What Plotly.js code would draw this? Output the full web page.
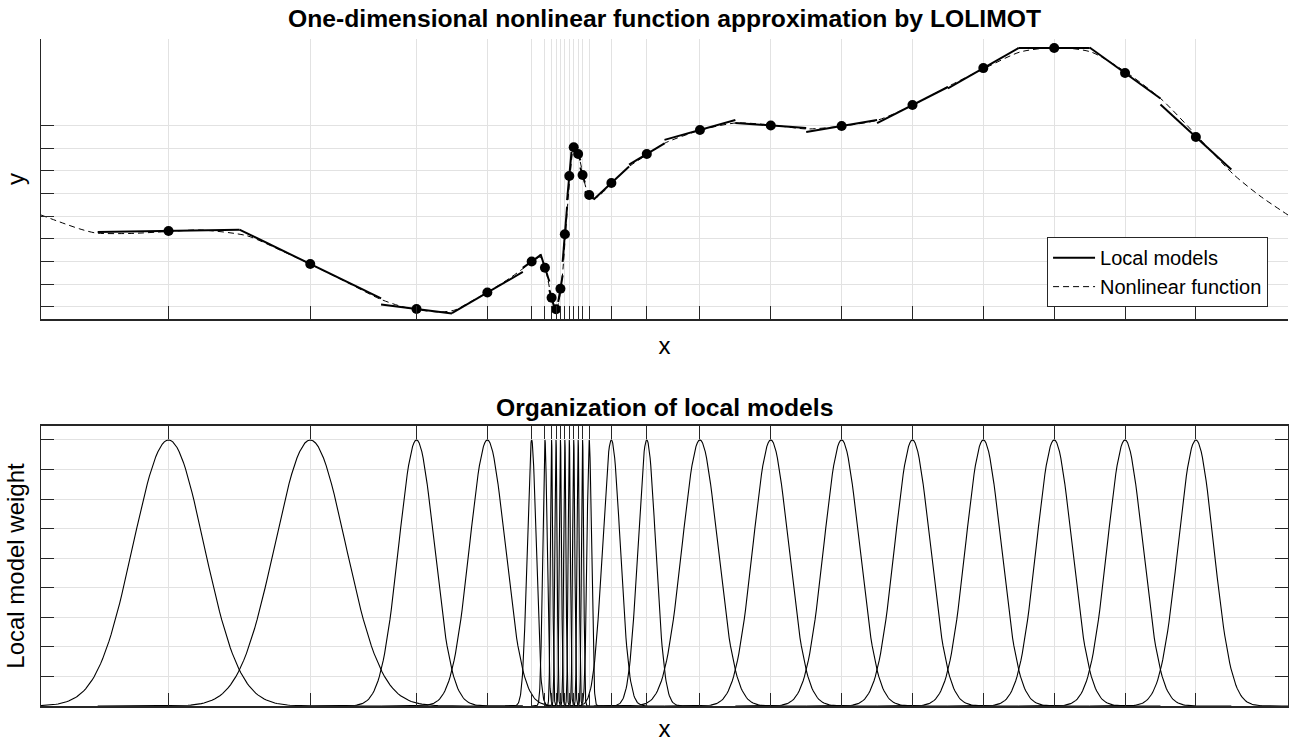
<!DOCTYPE html>
<html>
<head>
<meta charset="utf-8">
<script src="https://cdn.plot.ly/plotly-3.0.1.min.js"></script>
<style>html,body{margin:0;padding:0;background:#fff;} #chart{width:1293px;height:742px;}</style>
</head>
<body>
<div id="chart"></div>
<script>
// LOLIMOT partition boundaries of the input (x) axis
const partitionBounds = [0, 0.125, 0.25, 0.3125, 0.375, 0.390625, 0.3984375,
  0.40234375, 0.40625, 0.41015625, 0.4140625, 0.41796875, 0.421875, 0.42578125, 0.4296875,
  0.4375, 0.46875, 0.5, 0.5625, 0.625, 0.6875, 0.75, 0.8125, 0.875, 0.9375, 1.0];
// local model output at each centre, and local model slope
const modelCenterY = [-0.332, -0.623, -1.020, -0.875, -0.601, -0.656, -0.921, -1.023, -0.841,
  -0.361, 0.153, 0.406, 0.347, 0.162, -0.015, 0.091, 0.347, 0.559, 0.599, 0.594, 0.779,
  1.105, 1.282, 1.062, 0.497];
const modelSlope = [0.16, -4.86, -1.29, 5.8, 7.2, -31, -35, 0, 60, 125, 109, 5, -29, -34, -8,
  9.3, 6, 2.8, -0.7, 1.7, 5.1, 5.7, 0, -7.2, -9.2];
// nonlinear function samples
const funcX = [-0.05, -0.0333, -0.0157, -0.0015, 0.0285, 0.062, 0.0903, 0.1317, 0.1608, 0.1873,
  0.2226, 0.249, 0.2667, 0.2808, 0.302, 0.3152, 0.3284, 0.3434, 0.3637, 0.377, 0.3831, 0.3902,
  0.3946, 0.3972, 0.4003, 0.4025, 0.4043, 0.4061, 0.4087, 0.4105, 0.4127, 0.4149, 0.4167, 0.4185,
  0.4197, 0.4211, 0.4237, 0.4259, 0.4281, 0.4308, 0.4343, 0.4369, 0.4431, 0.4528, 0.4696, 0.4855,
  0.5005, 0.5322, 0.5631, 0.594, 0.6257, 0.6575, 0.6884, 0.7192, 0.751, 0.7828, 0.8137, 0.8455,
  0.8763, 0.9081, 0.939, 0.9706, 1.0015, 1.0253, 1.05];
const funcY = [-0.191, -0.253, -0.314, -0.350, -0.354, -0.337, -0.323, -0.374, -0.500, -0.623,
  -0.799, -0.932, -0.994, -1.025, -1.047, -1.029, -0.959, -0.875, -0.747, -0.650, -0.606, -0.562,
  -0.641, -0.764, -0.921, -0.994, -1.023, -0.985, -0.844, -0.659, -0.359, -0.059, 0.153, 0.338,
  0.406, 0.409, 0.347, 0.268, 0.162, 0.047, -0.023, -0.050, -0.015, 0.083, 0.242, 0.347,
  0.444, 0.559, 0.621, 0.603, 0.568, 0.594, 0.647, 0.779, 0.947, 1.105, 1.247, 1.287,
  1.247, 1.062, 0.824, 0.497, 0.171, -0.023, -0.191];
const sigmaFactor = 0.25;
const yTicksTop = [-1, -0.8, -0.6, -0.4, -0.2, 0, 0.2, 0.4, 0.6];
const yTicksBottom = [0, 1/9, 2/9, 3/9, 4/9, 5/9, 6/9, 7/9, 8/9, 1];

const centers = [], widths = [];
for (let i = 0; i < partitionBounds.length - 1; i++) {
  centers.push((partitionBounds[i] + partitionBounds[i+1]) / 2);
  widths.push(partitionBounds[i+1] - partitionBounds[i]);
}
// local model segments
const lmX = [], lmY = [];
centers.forEach((c, i) => {
  const lo = partitionBounds[i], hi = partitionBounds[i+1];
  lmX.push(lo, hi, null);
  lmY.push(modelCenterY[i] + modelSlope[i]*(lo - c), modelCenterY[i] + modelSlope[i]*(hi - c), null);
});
// validity functions (Gaussians)
const gX = [], gY = [];
centers.forEach((c, i) => {
  const s = sigmaFactor * widths[i];
  const a = Math.max(-0.05, c - 6*s), b = Math.min(1.05, c + 6*s);
  const n = 160;
  for (let k = 0; k <= n; k++) {
    const x = a + (b - a) * k / n;
    gX.push(x); gY.push(Math.exp(-0.5 * ((x - c)/s) ** 2));
  }
  gX.push(null); gY.push(null);
});

const FONT = 'Liberation Sans, Arial, Helvetica, sans-serif';
const AX = '#262626', GRID = '#e2e2e2';
const traces = [
  {x: lmX, y: lmY, mode: 'lines', name: 'Local models', line: {color: '#000', width: 2},
   connectgaps: false, xaxis: 'x', yaxis: 'y', legendrank: 1, hoverinfo: 'skip'},
  {x: funcX, y: funcY, mode: 'lines', name: 'Nonlinear function',
   line: {color: '#000', width: 1, dash: '6px,4px', shape: 'spline', smoothing: 0.7},
   xaxis: 'x', yaxis: 'y', legendrank: 2},
  {x: centers, y: modelCenterY, mode: 'markers', marker: {color: '#000', size: 10},
   showlegend: false, xaxis: 'x', yaxis: 'y'},
  {x: gX, y: gY, mode: 'lines', line: {color: '#000', width: 1.1}, showlegend: false,
   connectgaps: false, xaxis: 'x2', yaxis: 'y2'}
];

const common = {showticklabels: false, ticks: 'inside', ticklen: 13, tickwidth: 1, tickcolor: AX,
  showgrid: true, gridcolor: GRID, gridwidth: 1, zeroline: false, showline: true, linecolor: AX};
const layout = {
  width: 1293, height: 742,
  margin: {l: 41, r: 5, t: 39, b: 36},
  paper_bgcolor: '#fff', plot_bgcolor: '#fff',
  font: {family: FONT, color: '#000'},
  title: {text: '<b>One-dimensional nonlinear function approximation by LOLIMOT</b>',
    font: {size: 24.7, family: FONT, color: '#000'}, x: 0.5, xref: 'paper', xanchor: 'center',
    y: 1 - 18/742, yref: 'container', yanchor: 'middle'},
  showlegend: true,
  legend: {x: 0.984, xanchor: 'right', y: 0.598, yanchor: 'bottom', bgcolor: '#fff',
    bordercolor: AX, borderwidth: 1, font: {size: 20, family: FONT, color: '#000'},
    itemwidth: 42, tracegroupgap: 0},
  xaxis: Object.assign({}, common, {domain: [0, 1], range: [-0.05, 1.05], tickvals: centers,
    anchor: 'y', linewidth: 2, title: {text: 'x', font: {size: 24, family: FONT}, standoff: 17}}),
  yaxis: Object.assign({}, common, {domain: [0.5802, 1], range: [-1.1085, 1.3617],
    tickvals: yTicksTop, anchor: 'x', linewidth: 1,
    title: {text: 'y', font: {size: 24, family: FONT}, standoff: 8}}),
  xaxis2: Object.assign({}, common, {domain: [0, 1], range: [-0.05, 1.05], tickvals: centers,
    anchor: 'y2', linewidth: 1.5, mirror: 'ticks',
    title: {text: 'x', font: {size: 24, family: FONT}, standoff: 17}}),
  yaxis2: Object.assign({}, common, {domain: [0, 0.4198], range: [0, 1.0526],
    tickvals: yTicksBottom, anchor: 'x2', linewidth: 1, mirror: 'ticks',
    title: {text: 'Local model weight', font: {size: 24, family: FONT}, standoff: 8}}),
  annotations: [{text: '<b>Organization of local models</b>', xref: 'paper', yref: 'paper',
    x: 0.5, xanchor: 'center', y: (706-407)/667, yanchor: 'middle', showarrow: false,
    font: {size: 24.7, family: FONT, color: '#000'}}]
};
Plotly.newPlot('chart', traces, layout, {displayModeBar: false, responsive: false});
</script>
</body>
</html>
